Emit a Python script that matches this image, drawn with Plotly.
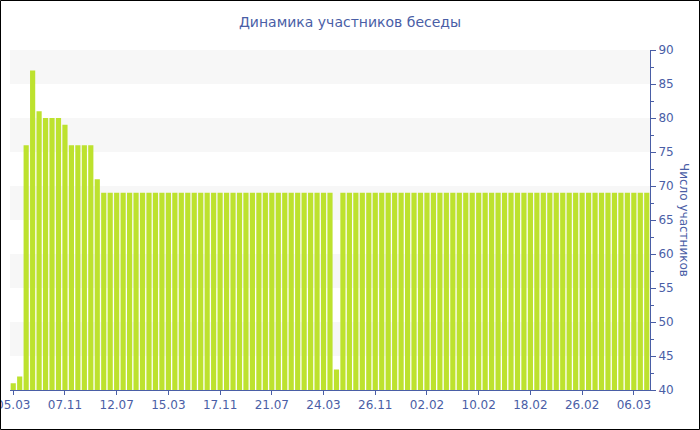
import plotly.graph_objects as go

# ---- data ----
values = [41, 42, 76, 87, 81, 80, 80, 80, 79, 76, 76, 76, 76, 71] + [69] * 36 + [43] + [69] * 48
tick_positions = [0, 8, 16, 24, 32, 40, 48, 56, 64, 72, 80, 88, 96]
tick_labels = ["05.03", "07.11", "12.07", "15.03", "17.11", "21.07", "24.03",
               "26.11", "02.02", "10.02", "18.02", "26.02", "06.03"]
x_idx = list(range(len(values)))

title_text = "Динамика участников беседы"
y_title = "Число участников"

BAR = "#bde22e"
BLUE = "#4a5ea6"
FONT = "DejaVu Sans, Verdana, sans-serif"

W, H = 700, 430
ML, MR, MT, MB = 10, 50, 50, 40
PW, PH = W - ML - MR, H - MT - MB

fig = go.Figure(go.Bar(x=x_idx, y=values, marker=dict(color=BAR, line=dict(width=0)),
                       hoverinfo="x+y"))

shapes = []
# alternating bands
for lo in [45, 55, 65, 75, 85]:
    shapes.append(dict(type="rect", xref="paper", yref="y", x0=0, x1=1, y0=lo, y1=lo + 5,
                       fillcolor="#f7f7f7", line=dict(width=0), layer="below"))
# outer border
shapes.append(dict(type="rect", xref="paper", yref="paper",
                   x0=(0.5 - ML) / PW, x1=(W - 0.5 - ML) / PW,
                   y0=-(MB - 0.5) / PH, y1=1 + (MT - 0.5) / PH,
                   line=dict(color="black", width=1), fillcolor="rgba(0,0,0,0)"))

fig.update_layout(
    width=W, height=H,
    margin=dict(l=ML, r=MR, t=MT, b=MB, pad=0, autoexpand=False),
    paper_bgcolor="white", plot_bgcolor="white",
    bargap=0.2,
    showlegend=False,
    font=dict(family=FONT, size=12, color=BLUE),
    title=dict(text=title_text, x=0.5, xref="container", y=1 - 22 / H, yanchor="middle",
               font=dict(family=FONT, size=14, color=BLUE)),
    xaxis=dict(
        range=[-0.5, len(values) - 0.5],
        tickmode="array", tickvals=tick_positions, ticktext=tick_labels,
        showgrid=False, zeroline=False,
        showline=True, linecolor=BLUE, linewidth=1,
        ticks="outside", ticklen=4, tickcolor=BLUE,
        tickfont=dict(family=FONT, size=12, color=BLUE),
        ticklabeloverflow="allow", automargin=False,
        fixedrange=True,
    ),
    yaxis=dict(
        side="right", range=[40, 90], dtick=5, tick0=40,
        showgrid=False, zeroline=False,
        showline=True, linecolor=BLUE, linewidth=1,
        ticks="outside", ticklen=5, tickcolor=BLUE,
        minor=dict(dtick=2.5, ticks="outside", ticklen=3, tickcolor=BLUE, showgrid=False),
        tickfont=dict(family=FONT, size=12, color=BLUE),
        ticklabeloverflow="allow", automargin=False,
        fixedrange=True,
    ),
    shapes=shapes,
    annotations=[dict(text=y_title, xref="paper", yref="paper",
                      x=(684 - ML) / PW, y=0.5, showarrow=False, textangle=90,
                      xanchor="center", yanchor="middle",
                      font=dict(family=FONT, size=12, color=BLUE))],
)

fig.write_html("out.html", config={"displayModeBar": False},
               post_script="document.body.style.margin='0';document.body.style.overflow='hidden';")
